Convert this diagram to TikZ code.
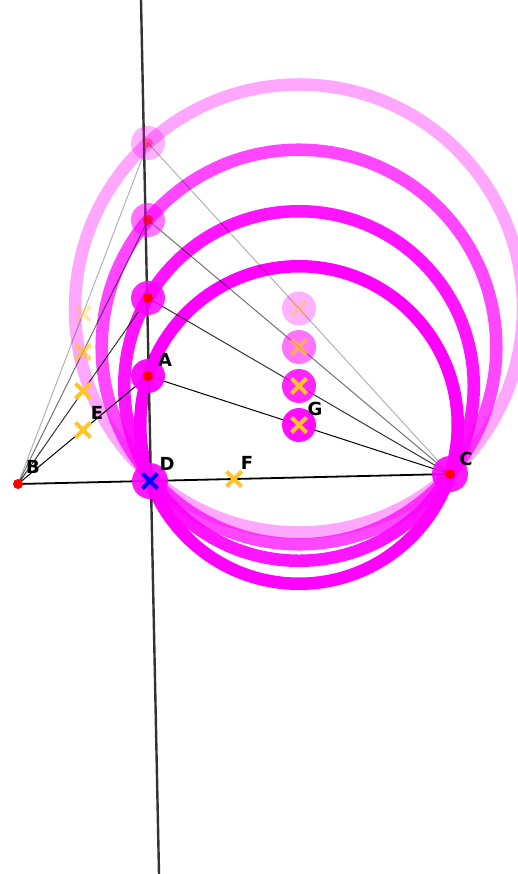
\documentclass[tikz,border=0pt]{standalone}
\usepackage{fontspec}
\setmainfont{DejaVu Sans}
\usetikzlibrary{calc,shapes.misc}
\definecolor{mk}{RGB}{255,196,40}
\definecolor{mag}{RGB}{255,0,255}

\begin{document}
\begin{tikzpicture}[x=1pt,y=-1pt,
    circ/.style={draw=mag, line width=12.5pt},
    seg/.style={line width=1pt},
    halo/.style={fill=mag},
    dot/.style={circle, fill=red, inner sep=0pt, minimum size=10pt},
    xmark/.style={cross out, draw=#1, line width=4pt, inner sep=0pt, minimum size=11pt},
    lbl/.style={font=\bfseries\fontsize{18}{20}\selectfont}]
    \useasboundingbox (0,0) rectangle (518,874);

    % points of the figure
    \coordinate (B) at (18,484);
    \coordinate (C) at (450,474);
    \coordinate (D) at (150,481);
    \coordinate (A1) at (148,376);
    \coordinate (A2) at (148,298);
    \coordinate (A3) at (148,220);
    \coordinate (A4) at (148,143);
    \coordinate (F) at ($(B)!0.5!(C)$);
    \foreach \i in {1,...,4} {
        \coordinate (E\i) at ($(B)!0.5!(A\i)$);
        \coordinate (G\i) at ($(A\i)!0.5!(C)$);
    }
    \coordinate (top) at (141,0);
    \coordinate (bot) at (159,874);

    % circles on AC as diameter
    \foreach \i/\op in {4/0.35,3/0.72,2/0.92,1/1}
        \draw[circ, draw opacity=\op] let \p1=($(C)-(A\i)$), \n1={veclen(\x1,\y1)/2}
            in (G\i) circle (\n1);

    % sides
    \foreach \i/\op in {4/0.3,3/0.55,2/0.8,1/1}
        \draw[seg, draw opacity=\op] (B) -- (A\i) -- (C);
    \draw[line width=1.8pt] (B) -- (C);
    \draw[line width=2.4pt, black!80] (top) -- (bot);

    % highlighted points
    \foreach \i/\op in {4/0.3,3/0.55,2/0.85,1/0.95} {
        \fill[halo, fill opacity=\op] (A\i) circle (17);
        \fill[halo, fill opacity=\op] (G\i) circle (17);
    }
    \fill[halo, fill opacity=0.9] (D) circle (18);
    \fill[halo, fill opacity=0.9] (C) circle (18);

    % markers
    \foreach \i/\op in {4/0.35,3/0.7,2/1,1/1} {
        \node[dot, opacity=\op] (a\i) at (A\i) {};
        \node[xmark=mk, opacity=\op] (e\i) at (E\i) {};
        \node[xmark=mk, opacity=\op] (g\i) at (G\i) {};
    }
    \node[dot] (b) at (B) {};
    \node[dot] (c) at (C) {};
    \node[xmark=mk] (f) at (F) {};
    \node[xmark=blue] (d) at (D) {};

    % labels
    \node[lbl] (la) at (165,360) {A};
    \node[lbl] (lb) at (33,467) {B};
    \node[lbl] (lc) at (466,459) {C};
    \node[lbl] (ld) at (167,464) {D};
    \node[lbl] (le) at (97,413) {E};
    \node[lbl] (lf) at (247,463) {F};
    \node[lbl] (lg) at (315,409) {G};
\end{tikzpicture}
\end{document}
